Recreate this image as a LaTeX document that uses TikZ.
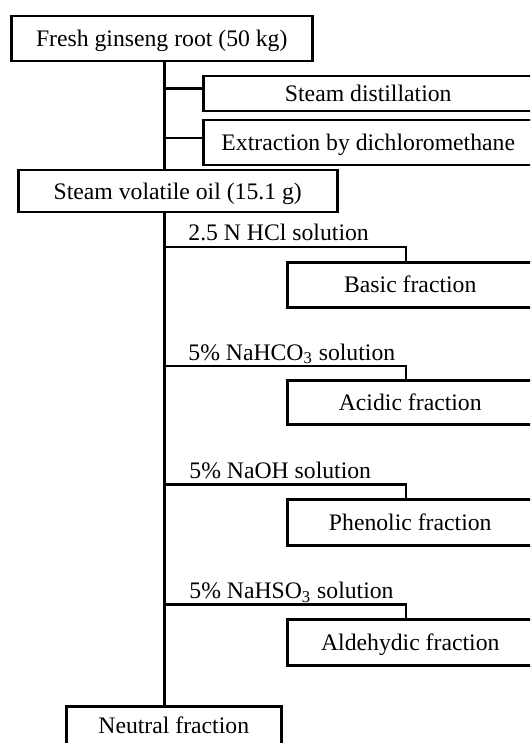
\documentclass[tikz,border=0pt]{standalone}
\usepackage{fontspec}
\setmainfont{Liberation Serif}
\begin{document}
\begin{tikzpicture}[x=0.5pt,y=-0.5pt,
  every node/.style={font=\fontsize{11.85pt}{14pt}\selectfont},
  boxnode/.style={draw, line width=1.25pt, rectangle, anchor=north west, inner sep=0pt,
    text height=9.5pt, text depth=1.7pt, align=center},
  lbl/.style={anchor=base west, inner sep=0pt},
  conn/.style={line width=1.25pt}]
\useasboundingbox (0,0) rectangle (530,743);
\clip (0,0) rectangle (530,743);
% boxes
\node[boxnode, minimum width=150.5pt, minimum height=22.5pt] (fresh) at (10,15) {Fresh ginseng root (50 kg)};
\node[boxnode, minimum width=165pt, minimum height=17.5pt] (steam) at (202,75) {Steam distillation};
\node[boxnode, minimum width=165pt, minimum height=22.5pt] (extr) at (202,119) {Extraction by dichloromethane};
\node[boxnode, minimum width=159.5pt, minimum height=21pt] (oil) at (17,169) {Steam volatile oil (15.1 g)};
\node[boxnode, minimum width=123pt, minimum height=22.5pt] (basic) at (286,261) {Basic fraction};
\node[boxnode, minimum width=123pt, minimum height=22pt] (acidic) at (286,379) {Acidic fraction};
\node[boxnode, minimum width=123pt, minimum height=23pt] (phen) at (286,498) {Phenolic fraction};
\node[boxnode, minimum width=123pt, minimum height=23pt] (ald) at (286,618) {Aldehydic fraction};
\node[boxnode, minimum width=107.5pt, minimum height=25pt, text depth=6.8pt] (neutral) at (65,705) {Neutral fraction};
% helper coordinates
\coordinate (tx) at (164.5,0);
\coordinate (kx) at (406,0);
\coordinate (b1) at (164.5,88.6);
\coordinate (b2) at (164.5,138);
\coordinate (h1) at (164.5,247);
\coordinate (h2) at (164.5,366);
\coordinate (h3) at (164.5,484.5);
\coordinate (h4) at (164.5,604.5);
% trunk
\draw[conn] (fresh.south -| tx) -- (oil.north -| tx);
\draw[conn] (oil.south -| tx) -- (neutral.north -| tx);
% upper branches
\draw[conn] (b1) -- (b1 -| steam.west);
\draw[conn] (b2) -- (b2 -| extr.west);
% solution branches
\draw[conn] (h1) -| (basic.north -| kx);
\draw[conn] (h2) -| (acidic.north -| kx);
\draw[conn] (h3) -| (phen.north -| kx);
\draw[conn] (h4) -| (ald.north -| kx);
% labels
\node[lbl] (l1) at (188,241) {2.5 N HCl solution};
\node[lbl] (l2) at (188,360) {5\% NaHCO\textsubscript{3} solution};
\node[lbl] (l3) at (189,478.5) {5\% NaOH solution};
\node[lbl] (l4) at (189,598.5) {5\% NaHSO\textsubscript{3} solution};
\end{tikzpicture}
\end{document}
